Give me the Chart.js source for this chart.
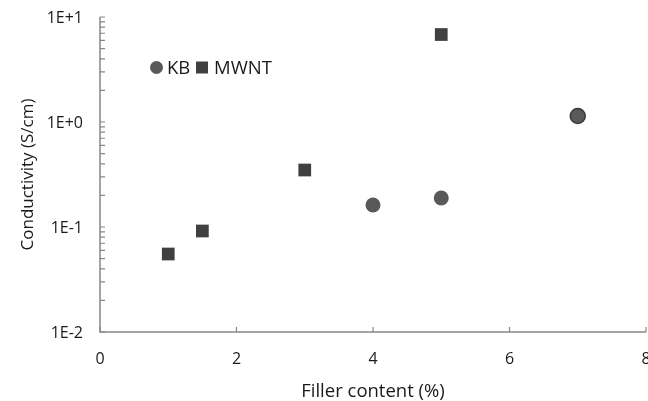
<!DOCTYPE html>
<html>
<head>
<meta charset="utf-8">
<script src="https://cdn.jsdelivr.net/npm/chart.js@4"></script>
<style>
html,body{margin:0;padding:0;background:#fff;}
#wrap{width:648px;height:401px;position:relative;}
</style>
</head>
<body>
<div id="wrap"><canvas id="c" width="648" height="401"></canvas></div>
<script>
const kbX = [4, 5, 7];
const kbY = [0.162, 0.189, 1.14];
const mwntX = [1, 1.5, 3, 5];
const mwntY = [0.0553, 0.0916, 0.349, 6.81];
const xTicks = [0, 2, 4, 6, 8];
const yTicks = [0.01, 0.1, 1, 10];
const yTickLabels = ['1E-2', '1E-1', '1E+0', '1E+1'];
const seriesNames = ['KB', 'MWNT'];
const xTitle = 'Filler content (%)';
const yTitle = 'Conductivity (S/cm)';

const FONT = "'Open Sans', Lato, sans-serif";
const AXIS = '#868686';
const TEXT = '#1a1a1a';

const axesPlugin = {
  id: 'axesPlugin',
  afterDatasetsDraw(chart) {
    const ctx = chart.ctx;
    const xs = chart.scales.x, ys = chart.scales.y;
    const a = chart.chartArea;
    ctx.save();
    ctx.strokeStyle = AXIS;
    ctx.lineWidth = 1.5;
    ctx.beginPath();
    ctx.moveTo(a.left, a.top);
    ctx.lineTo(a.left, a.bottom);
    ctx.lineTo(a.right, a.bottom);
    ctx.stroke();
    ctx.lineWidth = 1.2;
    ctx.beginPath();
    xTicks.forEach(v => {
      const px = xs.getPixelForValue(v);
      ctx.moveTo(px, a.bottom);
      ctx.lineTo(px, a.bottom - 5);
    });
    for (let e = -2; e < 1; e++) {
      for (let m = 1; m <= 9; m++) {
        const py = ys.getPixelForValue(m * Math.pow(10, e));
        ctx.moveTo(a.left, py);
        ctx.lineTo(a.left + 5, py);
      }
    }
    const pTop = ys.getPixelForValue(10);
    ctx.moveTo(a.left, pTop);
    ctx.lineTo(a.left + 5, pTop);
    ctx.stroke();

    // tick labels
    ctx.fillStyle = TEXT;
    ctx.font = '16px ' + FONT;
    ctx.textBaseline = 'alphabetic';
    ctx.textAlign = 'center';
    xTicks.forEach(v => ctx.fillText(String(v), xs.getPixelForValue(v), 364));
    ctx.textAlign = 'right';
    yTicks.forEach((v, i) => ctx.fillText(yTickLabels[i], 83, ys.getPixelForValue(v) + 5.5));

    // titles
    ctx.font = '18.5px ' + FONT;
    ctx.textAlign = 'center';
    ctx.fillText(xTitle, (a.left + a.right) / 2, 397);
    ctx.save();
    ctx.translate(33, (a.top + a.bottom) / 2);
    ctx.rotate(-Math.PI / 2);
    ctx.font = '17px ' + FONT;
    ctx.fillText(yTitle, 0, 0);
    ctx.restore();

    // legend
    const ly = 67.5;
    const ds = chart.data.datasets;
    ctx.fillStyle = ds[0].backgroundColor;
    ctx.beginPath();
    ctx.arc(156.5, ly, 6.5, 0, Math.PI * 2);
    ctx.fill();
    ctx.fillStyle = ds[1].backgroundColor;
    ctx.fillRect(196, ly - 6, 12, 12);
    ctx.fillStyle = TEXT;
    ctx.font = '18.5px ' + FONT;
    ctx.textAlign = 'left';
    ctx.fillText(seriesNames[0], 167, ly + 6.5);
    ctx.fillText(seriesNames[1], 214, ly + 6.5);
    ctx.restore();
  }
};

new Chart(document.getElementById('c'), {
  type: 'scatter',
  data: {
    datasets: [
      {
        label: seriesNames[0],
        data: kbX.map((x, i) => ({x: x, y: kbY[i]})),
        pointStyle: 'circle',
        pointRadius: 7.5,
        backgroundColor: '#595959',
        borderColor: ['#595959', '#595959', '#3a3a3a'],
        borderWidth: [0, 0, 1.5]
      },
      {
        label: seriesNames[1],
        data: mwntX.map((x, i) => ({x: x, y: mwntY[i]})),
        pointStyle: 'rect',
        pointRadius: 9,
        backgroundColor: '#404040',
        borderColor: '#404040',
        borderWidth: 0
      }
    ]
  },
  options: {
    responsive: false,
    animation: false,
    layout: {autoPadding: false, padding: {left: 100, right: 2, top: 17, bottom: 69}},
    plugins: {legend: {display: false}, tooltip: {enabled: false}},
    scales: {
      x: {type: 'linear', min: 0, max: 8, display: false},
      y: {type: 'logarithmic', min: 0.01, max: 10, display: false}
    }
  },
  plugins: [axesPlugin]
});
</script>
</body>
</html>
